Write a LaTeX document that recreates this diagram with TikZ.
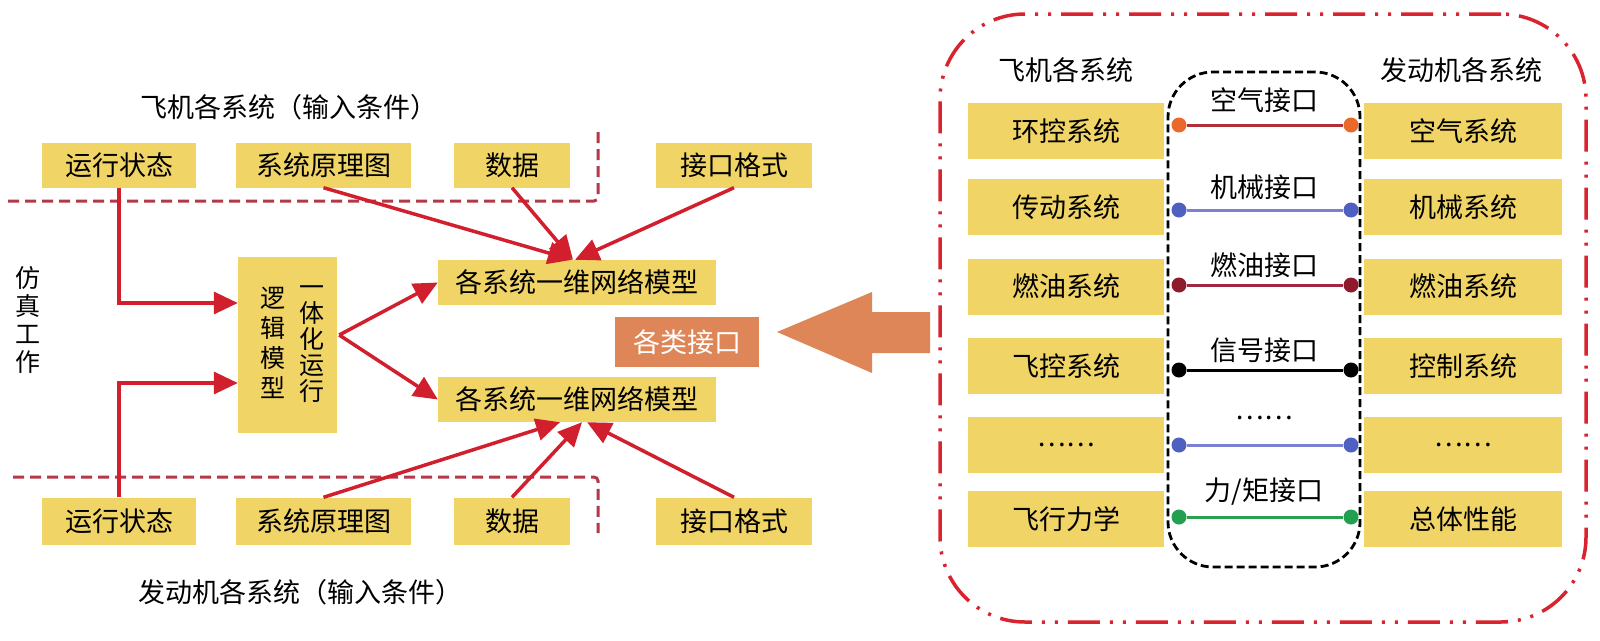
\documentclass[tikz,border=0pt]{standalone}
\usepackage{fontspec}
\newfontfamily\cjk{Noto Sans CJK SC}
\usetikzlibrary{arrows.meta}
\definecolor{boxy}{HTML}{F0D466}
\definecolor{arrred}{HTML}{D21F2D}
\definecolor{dashred}{HTML}{B43848}
\definecolor{framered}{HTML}{D9232E}
\definecolor{orangebox}{HTML}{DF8658}
\definecolor{dotorange}{HTML}{E8692A}
\definecolor{lineone}{HTML}{B0303A}
\definecolor{dotblue}{HTML}{5060C0}
\definecolor{lineblue}{HTML}{7C80D2}
\definecolor{dotdark}{HTML}{8E1A2C}
\definecolor{linedark}{HTML}{A02840}
\definecolor{dotgreen}{HTML}{22A050}
\definecolor{linegreen}{HTML}{2E9E50}
\begin{document}
\begin{tikzpicture}[x=1pt,y=-1pt,
  every node/.style={font=\cjk\fontsize{27pt}{32pt}\selectfont, inner sep=0pt},
  ybox/.style={fill=boxy},
  vtext/.style={align=center, font=\cjk\fontsize{25pt}{#1}\selectfont},
  rarrow/.style={draw=arrred, line width=3.5pt, -{Triangle[length=24pt,width=22pt]}},
  dline/.style={draw=dashred, line width=3pt, dash pattern=on 11pt off 6pt, rounded corners=4pt},
  frameline/.style={draw=framered, line width=3.5pt, dash pattern=on 32pt off 10pt on 3pt off 10pt on 3pt off 10pt},
  capsule/.style={draw=black, line width=2.8pt, dash pattern=on 8pt off 4pt},
  dot/.style={circle, fill=#1, minimum size=15pt, inner sep=0pt},
  iline/.style={draw=#1, line width=3pt}
]
\useasboundingbox (0,0) rectangle (1600,640);
\fill[white] (0,0) rectangle (1600,640);

% ---------- left part ----------
\node (tt) at (289,107) {飞机各系统（输入条件）};
\node (bt) at (300,592) {发动机各系统（输入条件）};
\node[vtext=28pt] (fz) at (28,320) {仿\\真\\工\\作};

\draw[dline] (8,201) -- (598,201) -- (598,132);
\draw[dline] (13,477) -- (598,477) -- (598,533);

\node[ybox, minimum width=154pt, minimum height=45pt] (t1) at (119,165) {运行状态};
\node[ybox, minimum width=175pt, minimum height=45pt] (t2) at (323.5,165) {系统原理图};
\node[ybox, minimum width=116pt, minimum height=45pt] (t3) at (512,165) {数据};
\node[ybox, minimum width=156pt, minimum height=45pt] (t4) at (734,165) {接口格式};

\node[ybox, minimum width=154pt, minimum height=47pt] (b1) at (119,521) {运行状态};
\node[ybox, minimum width=175pt, minimum height=47pt] (b2) at (323.5,521) {系统原理图};
\node[ybox, minimum width=116pt, minimum height=47pt] (b3) at (512,521) {数据};
\node[ybox, minimum width=156pt, minimum height=47pt] (b4) at (734,521) {接口格式};

\node[ybox, minimum width=99pt, minimum height=176pt] (logic) at (287.5,345) {};
\node[vtext=30pt] (lg1) at (273,343) {逻\\辑\\模\\型};
\node[vtext=26pt] (lg2) at (312,344.5) {一\\体\\化\\运\\行};

\node[ybox, minimum width=278pt, minimum height=45pt] (m1) at (577,282.5) {各系统一维网络模型};
\node[ybox, minimum width=278pt, minimum height=45pt] (m2) at (577,399.5) {各系统一维网络模型};

\node[fill=orangebox, text=white, minimum width=144pt, minimum height=50pt] (ifc) at (687,342) {各类接口};

\draw[rarrow] (t1.south) |- ([yshift=42pt]logic.west);
\draw[rarrow] (b1.north) |- ([yshift=-38pt]logic.west);
\coordinate (fan) at ([xshift=2pt,yshift=10pt]logic.east);
\draw[rarrow] (fan) -- (m1.west);
\draw[rarrow] (fan) -- (m2.west);
\draw[rarrow] (t2.south) -- ([xshift=-5pt]m1.north);
\draw[rarrow] (t3.south) -- ([xshift=-4pt]m1.north);
\draw[rarrow] (t4.south) -- ([xshift=-2pt]m1.north);
\draw[rarrow] (b2.north) -- ([xshift=-17pt]m2.south);
\draw[rarrow] (b3.north) -- ([xshift=5pt]m2.south);
\draw[rarrow] (b4.north) -- ([xshift=10pt]m2.south);

% big block arrow
\fill[orangebox] (777,332) -- (872,292) -- (872,312) -- (930,312) -- (930,353) -- (872,353) -- (872,373) -- cycle;

% ---------- right panel ----------
\node[frameline, rounded corners=85pt, minimum width=646pt, minimum height=608pt] (frame) at (1263,318) {};
\node[capsule, rounded corners=45pt, minimum width=192pt, minimum height=495pt] (caps) at (1264,319.5) {};

\node (hl) at (1066,70) {飞机各系统};
\node (hr) at (1461,70) {发动机各系统};

\node[ybox, minimum width=196pt, minimum height=56pt] (L1) at (1066,131) {环控系统};
\node[ybox, minimum width=196pt, minimum height=56pt] (L2) at (1066,207) {传动系统};
\node[ybox, minimum width=196pt, minimum height=56pt] (L3) at (1066,286.5) {燃油系统};
\node[ybox, minimum width=196pt, minimum height=56pt] (L4) at (1066,366) {飞控系统};
\node[ybox, minimum width=196pt, minimum height=56pt] (L5) at (1066,444.5) {……};
\node[ybox, minimum width=196pt, minimum height=56pt] (L6) at (1066,519) {飞行力学};

\node[ybox, minimum width=198pt, minimum height=56pt] (R1) at (1463,131) {空气系统};
\node[ybox, minimum width=198pt, minimum height=56pt] (R2) at (1463,207) {机械系统};
\node[ybox, minimum width=198pt, minimum height=56pt] (R3) at (1463,286.5) {燃油系统};
\node[ybox, minimum width=198pt, minimum height=56pt] (R4) at (1463,366) {控制系统};
\node[ybox, minimum width=198pt, minimum height=56pt] (R5) at (1463,444.5) {……};
\node[ybox, minimum width=198pt, minimum height=56pt] (R6) at (1463,519) {总体性能};

\node (I1) at (1264,100) {空气接口};
\node (I2) at (1264,187) {机械接口};
\node (I3) at (1264,265) {燃油接口};
\node (I4) at (1264,350) {信号接口};
\node (I5) at (1264,418) {……};
\node (I6) at (1264,492) {力/矩接口};

\node[dot=dotorange] (a1) at (1179,125) {};
\node[dot=dotorange] (c1) at (1351,125) {};
\node[dot=dotblue] (a2) at (1179,210) {};
\node[dot=dotblue] (c2) at (1351,210) {};
\node[dot=dotdark] (a3) at (1179,285) {};
\node[dot=dotdark] (c3) at (1351,285) {};
\node[dot=black] (a4) at (1179,370) {};
\node[dot=black] (c4) at (1351,370) {};
\node[dot=dotblue] (a5) at (1179,445) {};
\node[dot=dotblue] (c5) at (1351,445) {};
\node[dot=dotgreen] (a6) at (1179,517) {};
\node[dot=dotgreen] (c6) at (1351,517) {};

\draw[iline=lineone] (a1) -- (c1);
\draw[iline=lineblue] (a2) -- (c2);
\draw[iline=linedark] (a3) -- (c3);
\draw[iline=black] (a4) -- (c4);
\draw[iline=lineblue] (a5) -- (c5);
\draw[iline=linegreen] (a6) -- (c6);
\end{tikzpicture}
\end{document}
